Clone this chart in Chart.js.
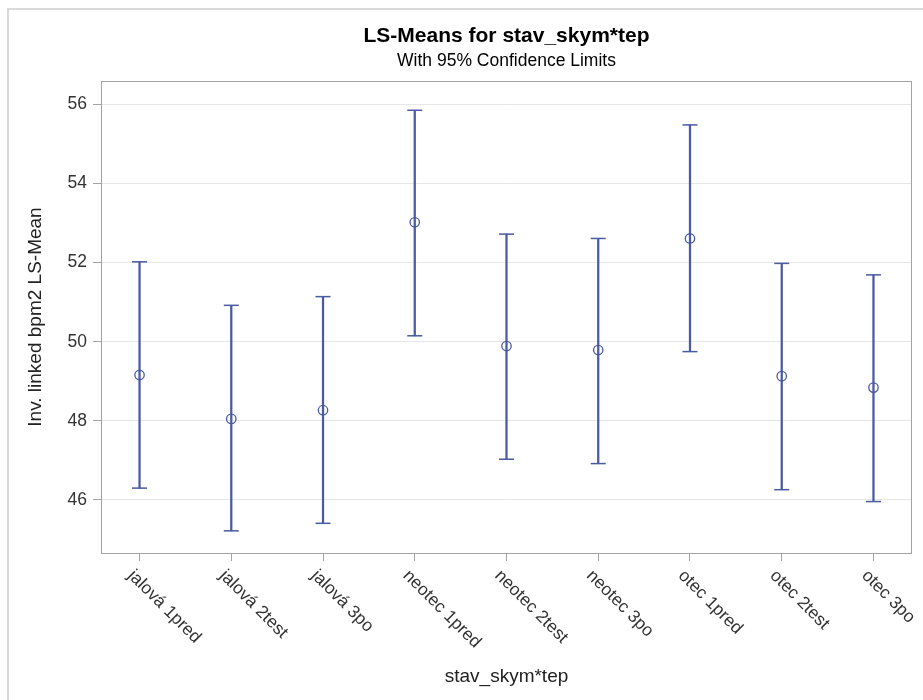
<!DOCTYPE html>
<html>
<head>
<meta charset="utf-8">
<script src="https://cdn.jsdelivr.net/npm/chart.js@4"></script>
<style>
  html, body { margin: 0; padding: 0; background: #fff; overflow: hidden; }
  #frame { position: absolute; left: 7px; top: 8px; width: 940px; height: 720px; border-left: 2px solid #dadada; border-top: 2px solid #dadada; }
  #lsChart { position: absolute; left: 0; top: 0; }
</style>
</head>
<body>
<div id="frame"></div>
<canvas id="lsChart" width="923" height="700"></canvas>
<script>
// LS-means with 95% confidence limits
const categories = ['jalová 1pred', 'jalová 2test', 'jalová 3po', 'neotec 1pred', 'neotec 2test', 'neotec 3po', 'otec 1pred', 'otec 2test', 'otec 3po'];
const lsMean = [49.16, 48.05, 48.27, 53.02, 49.89, 49.79, 52.61, 49.13, 48.84];
const upperCL = [52.02, 50.92, 51.14, 55.85, 52.72, 52.61, 55.48, 51.98, 51.69];
const lowerCL = [46.30, 45.22, 45.41, 50.15, 47.03, 46.92, 49.75, 46.26, 45.96];
const yTicks = [46, 48, 50, 52, 54, 56];

const blue = '#4a5aa3';
const axisGray = '#a3a3a3';
const fontFamily = '"Liberation Sans", Arial, sans-serif';

Chart.defaults.font.family = fontFamily;
Chart.defaults.color = '#333';

// category labels slanted downwards, placed at the x scale ticks
const slantLabels = {
    id: 'slantLabels',
    afterDraw(chart) {
        const ctx = chart.ctx;
        const x = chart.scales.x;
        ctx.save();
        ctx.font = '17.5px ' + fontFamily;
        ctx.fillStyle = '#333';
        ctx.textAlign = 'left';
        ctx.textBaseline = 'middle';
        categories.forEach((c, i) => {
            ctx.save();
            ctx.translate(x.getPixelForValue(i) - 9, x.top + 20);
            ctx.rotate(Math.PI / 4);
            ctx.fillText(c, 0, 0);
            ctx.restore();
        });
        ctx.restore();
    }
};

// box round the plot area
const plotFrame = {
    id: 'plotFrame',
    beforeDatasetsDraw(chart) {
        const ctx = chart.ctx;
        const a = chart.chartArea;
        ctx.save();
        ctx.strokeStyle = axisGray;
        ctx.lineWidth = 1;
        ctx.strokeRect(Math.round(a.left) + 0.5, Math.round(a.top) + 0.5,
            Math.round(a.right) - Math.round(a.left) - 1, Math.round(a.bottom) - Math.round(a.top));
        ctx.restore();
    }
};

const ctx = document.getElementById('lsChart').getContext('2d');
const lsChart = new Chart(ctx, {
    type: 'scatter',
    data: {
        datasets: [{
            type: 'bar',
            label: '95% CL',
            data: categories.map((c, i) => ({ x: i, y: [lowerCL[i], upperCL[i]] })),
            backgroundColor: blue,
            barThickness: 1.6,
            order: 4
        }, {
            label: 'Upper',
            data: categories.map((c, i) => ({ x: i, y: upperCL[i] })),
            pointStyle: 'line',
            radius: 7.5,
            borderColor: blue,
            borderWidth: 1.5,
            order: 3
        }, {
            label: 'Lower',
            data: categories.map((c, i) => ({ x: i, y: lowerCL[i] })),
            pointStyle: 'line',
            radius: 7.5,
            borderColor: blue,
            borderWidth: 1.5,
            order: 2
        }, {
            label: 'LS-Mean',
            data: categories.map((c, i) => ({ x: i, y: lsMean[i] })),
            pointStyle: 'circle',
            radius: 4.7,
            borderColor: blue,
            backgroundColor: 'rgba(0,0,0,0)',
            borderWidth: 1.3,
            order: 1
        }]
    },
    options: {
        responsive: false,
        animation: false,
        layout: { padding: { left: 0, right: 11, top: 0, bottom: 0 } },
        plugins: {
            legend: { display: false },
            tooltip: { enabled: false },
            title: {
                display: true,
                text: 'LS-Means for stav_skym*tep',
                fullSize: false,
                color: '#000',
                font: { size: 21, weight: 'bold' },
                padding: { top: 24, bottom: 0 }
            },
            subtitle: {
                display: true,
                text: 'With 95% Confidence Limits',
                fullSize: false,
                color: '#000',
                font: { size: 17.5 },
                padding: { top: 1, bottom: 9.8 }
            }
        },
        scales: {
            x: {
                type: 'linear',
                min: -0.42,
                max: 8.42,
                offset: false,
                afterBuildTicks: s => { s.ticks = categories.map((c, i) => ({ value: i })); },
                afterFit: s => { s.height = 147; },
                ticks: { display: false },
                grid: { display: true, drawOnChartArea: false, drawTicks: true, tickLength: 8, tickColor: axisGray, offset: false },
                border: { display: false },
                title: { display: true, text: 'stav_skym*tep', color: '#222', font: { size: 19 }, padding: { top: 0, bottom: 12 } }
            },
            y: {
                min: 44.66,
                max: 56.59,
                afterBuildTicks: s => { s.ticks = yTicks.map(v => ({ value: v })); },
                afterFit: s => { s.width = 101; },
                ticks: { color: '#333', font: { size: 17.5 }, padding: 6 },
                grid: { color: '#e6e6e6', tickColor: axisGray, tickLength: 8 },
                border: { display: false },
                title: { display: true, text: 'Inv. linked bpm2 LS-Mean', color: '#222', font: { size: 19 }, padding: { top: 24, bottom: 0 } }
            }
        }
    },
    plugins: [plotFrame, slantLabels]
});
</script>
</body>
</html>
